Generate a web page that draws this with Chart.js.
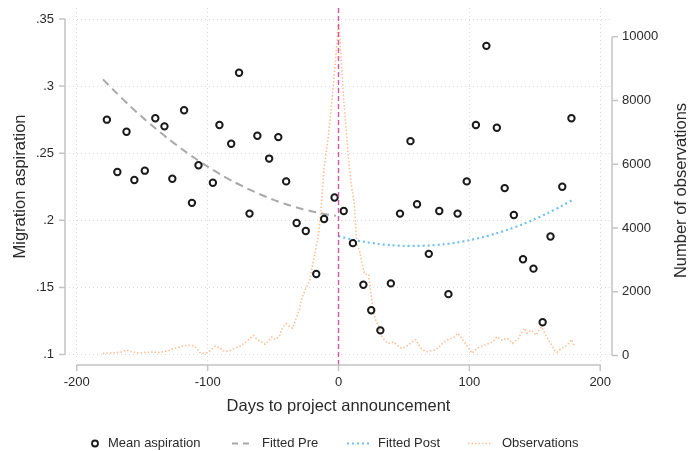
<!DOCTYPE html>
<html>
<head>
<meta charset="utf-8">
<script src="https://cdn.jsdelivr.net/npm/chart.js@4.4.1/dist/chart.umd.min.js"></script>
<style>
html,body{margin:0;padding:0;background:#ffffff;}
#wrap{width:691px;height:451px;position:relative;}
</style>
</head>
<body>
<div id="wrap"><canvas id="c" width="691" height="451"></canvas></div>
<script>
// ---- data ----
const aspDays = [-177,-169,-162,-156,-148,-140,-133,-127,-118,-112,-107,-96,-91,-82,-76,-68,-62,-53,-46,-40,-32,-25,-17,-11,-3,4,11,19,25,32,40,47,55,60,69,77,84,91,98,105,113,121,127,134,141,149,156,162,171,178];
const aspValues = [.275,.236,.266,.230,.237,.276,.270,.231,.282,.213,.241,.228,.271,.257,.310,.205,.263,.246,.262,.229,.198,.192,.160,.201,.217,.207,.183,.152,.133,.118,.153,.205,.259,.212,.175,.207,.145,.205,.229,.271,.330,.269,.224,.204,.171,.164,.124,.188,.225,.276];

const preDays = [-180,-170,-160,-150,-140,-130,-120,-110,-100,-90,-80,-70,-60,-50,-40,-30,-20,-10,-2];
const preFit  = [.305,.2952,.2858,.2769,.2686,.2607,.2533,.2464,.2400,.2341,.2287,.2238,.2194,.2154,.2120,.2090,.2066,.2046,.2034];

const postDays = [0,10,20,30,40,50,60,70,80,90,100,110,120,130,140,150,160,170,180];
const postFit  = [.1882,.1858,.1839,.1825,.1815,.1810,.1809,.1813,.1821,.1834,.1852,.1874,.1901,.1932,.1968,.2009,.2054,.2104,.2158];

const obsDays = [-180,-175,-170,-166,-162,-158,-154,-150,-146,-142,-138,-134,-130,-126,-122,-118,-114,-110,-106,-102,-98,-94,-90,-87,-83,-79,-75,-71,-68,-65,-62,-59,-56,-53,-51,-48,-45,-43,-40,-37,-35,-33,-30,-28,-25,-22,-20,-18,-15,-13,-11,-8,-5,-3,-1,0,1,2,4,6,8,10,12,14,16,18,20,23,25,27,29,31,33,36,38,40,42,45,48,51,55,59,63,66,68,71,74,77,80,84,88,91,93,95,97,100,102,104,106,109,112,115,118,121,123,125,127,129,131,133,135,137,139,142,144,147,149,151,153,155,157,159,161,163,165,167,169,171,173,175,178,180];
const obsCounts = [60,80,90,110,170,120,80,90,100,110,90,120,150,220,250,310,320,300,90,60,150,300,220,120,150,230,300,420,520,630,500,430,350,480,580,500,620,850,1000,900,850,1100,1420,1800,2100,2350,2800,3200,3850,4800,5900,6800,8000,8900,9900,10450,10000,9300,8000,7000,6000,5300,4800,3500,3300,2900,2550,2550,1850,1300,1050,900,600,450,380,400,430,320,230,260,380,500,230,140,120,150,170,280,400,500,560,700,600,480,380,200,70,150,230,280,330,380,430,590,520,480,520,540,460,380,450,500,650,850,700,800,720,640,780,900,750,600,450,330,170,100,180,230,280,330,500,330];

const announceDay = 0;
const xTicks = [-200,-100,0,100,200];
const yTicks = [.1,.15,.2,.25,.3,.35];
const yTickLabels = ['.1','.15','.2','.25','.3','.35'];
const y2Ticks = [0,2000,4000,6000,8000,10000];
const seriesNames = ['Mean aspiration','Fitted Pre','Fitted Post','Observations'];
const xTitle = 'Days to project announcement';
const yTitle = 'Migration aspiration';
const y2Title = 'Number of observations';

// ---- styles ----
const FONT = "'Liberation Sans', Arial, Helvetica, sans-serif";
const colAsp = '#1a1a1a', colPre = '#a9a9a9', colPost = '#72c0ee', colObs = '#fdc096', colLine = '#d9559f';
const axisCol = '#c4c4c4', gridCol = '#dcdcdc', textCol = '#2a2a2a';

Chart.defaults.font.family = FONT;
Chart.defaults.font.size = 13;
Chart.defaults.color = textCol;

const pairs = (xs, ys) => xs.map((v, i) => ({x: v, y: ys[i]}));
const noPadV = s => { s.paddingTop = 0; s.paddingBottom = 0; };

const decor = {
  id: 'decor',
  afterDatasetsDraw(chart) {
    const {ctx, chartArea: a, scales: {x}} = chart;
    const px = x.getPixelForValue(announceDay);
    ctx.save();
    ctx.strokeStyle = colLine; ctx.lineWidth = 1.4; ctx.setLineDash([5, 3]);
    ctx.beginPath(); ctx.moveTo(px, a.top); ctx.lineTo(px, a.bottom); ctx.stroke();
    ctx.restore();
  },
  afterDraw(chart) {
    const {ctx, chartArea: a, scales: {x, y, y2}} = chart;
    ctx.save();
    ctx.strokeStyle = axisCol; ctx.lineWidth = 1.5; ctx.setLineDash([]);
    ctx.beginPath();
    ctx.moveTo(a.left, y.getPixelForValue(yTicks[0]));
    ctx.lineTo(a.left, y.getPixelForValue(yTicks[yTicks.length - 1]));
    yTicks.forEach(v => { const p = y.getPixelForValue(v); ctx.moveTo(a.left, p); ctx.lineTo(a.left - 6, p); });
    ctx.moveTo(a.right, y2.getPixelForValue(y2Ticks[0]));
    ctx.lineTo(a.right, y2.getPixelForValue(y2Ticks[y2Ticks.length - 1]));
    y2Ticks.forEach(v => { const p = y2.getPixelForValue(v); ctx.moveTo(a.right, p); ctx.lineTo(a.right + 6, p); });
    ctx.moveTo(x.getPixelForValue(xTicks[0]), a.bottom);
    ctx.lineTo(x.getPixelForValue(xTicks[xTicks.length - 1]), a.bottom);
    xTicks.forEach(v => { const p = x.getPixelForValue(v); ctx.moveTo(p, a.bottom); ctx.lineTo(p, a.bottom + 6); });
    ctx.stroke();

    ctx.fillStyle = textCol;
    ctx.font = '16.5px ' + FONT;
    ctx.textAlign = 'center'; ctx.textBaseline = 'middle';
    const xc = (a.left + a.right) / 2;
    ctx.fillText(xTitle, xc, 406);
    const yc = (a.top + a.bottom) / 2;
    ctx.save(); ctx.translate(20, yc); ctx.rotate(-Math.PI / 2); ctx.fillText(yTitle, 0, 0); ctx.restore();
    ctx.save(); ctx.translate(681, yc + 4); ctx.rotate(-Math.PI / 2); ctx.fillText(y2Title, 0, 0); ctx.restore();

    const ly = 443.5;
    ctx.font = '13px ' + FONT;
    ctx.textAlign = 'left';
    ctx.strokeStyle = colAsp; ctx.lineWidth = 1.8;
    ctx.beginPath(); ctx.arc(95, ly, 3, 0, Math.PI * 2); ctx.stroke();
    ctx.fillText(seriesNames[0], 108, ly);
    ctx.strokeStyle = colPre; ctx.lineWidth = 2; ctx.setLineDash([6, 5]);
    ctx.beginPath(); ctx.moveTo(232, ly); ctx.lineTo(252, ly); ctx.stroke();
    ctx.fillText(seriesNames[1], 262, ly);
    ctx.strokeStyle = colPost; ctx.lineWidth = 2.2; ctx.setLineDash([2, 3]);
    ctx.beginPath(); ctx.moveTo(347, ly); ctx.lineTo(371, ly); ctx.stroke();
    ctx.fillText(seriesNames[2], 378, ly);
    ctx.strokeStyle = colObs; ctx.lineWidth = 1.6; ctx.setLineDash([1.5, 2]);
    ctx.beginPath(); ctx.moveTo(468, ly); ctx.lineTo(493, ly); ctx.stroke();
    ctx.fillText(seriesNames[3], 502, ly);
    ctx.restore();
  }
};

new Chart(document.getElementById('c'), {
  type: 'scatter',
  data: {
    datasets: [
      { label: seriesNames[0], data: pairs(aspDays, aspValues), yAxisID: 'y',
        pointRadius: 3.2, pointHoverRadius: 3.2, borderColor: colAsp, backgroundColor: 'rgba(255,255,255,0)', borderWidth: 2, showLine: false },
      { label: seriesNames[1], data: pairs(preDays, preFit), yAxisID: 'y', showLine: true,
        pointRadius: 0, borderColor: colPre, borderWidth: 2, borderDash: [8, 5], tension: 0.3 },
      { label: seriesNames[2], data: pairs(postDays, postFit), yAxisID: 'y', showLine: true,
        pointRadius: 0, borderColor: colPost, borderWidth: 2.2, borderDash: [2, 3], tension: 0.3 },
      { label: seriesNames[3], data: pairs(obsDays, obsCounts), yAxisID: 'y2', showLine: true,
        pointRadius: 0, borderColor: colObs, borderWidth: 1.6, borderDash: [1.5, 2], tension: 0 }
    ]
  },
  options: {
    responsive: false,
    devicePixelRatio: 1,
    animation: false,
    layout: { padding: { top: 8, left: 0, right: 0, bottom: 0 } },
    plugins: { legend: { display: false }, tooltip: { enabled: false } },
    scales: {
      x: {
        type: 'linear', min: -209, max: 209,
        afterBuildTicks: s => { s.ticks = xTicks.map(v => ({ value: v })); },
        afterFit: s => { s.height = 86; s.paddingLeft = 0; s.paddingRight = 0; },
        ticks: { padding: 10, callback: v => String(v), font: { size: 13 }, color: textCol, maxRotation: 0 },
        grid: { color: gridCol, lineWidth: 1, drawTicks: false },
        border: { display: false, dash: [1, 3] }
      },
      y: {
        type: 'linear', position: 'left', min: 0.0922, max: 0.3582,
        afterBuildTicks: s => { s.ticks = yTicks.map(v => ({ value: v })); },
        afterFit: s => { s.width = 65; noPadV(s); },
        ticks: { padding: 11, font: { size: 13 }, color: textCol,
          callback: v => { const i = yTicks.findIndex(t => Math.abs(t - v) < 1e-9); return i >= 0 ? yTickLabels[i] : ''; } },
        grid: { color: gridCol, lineWidth: 1, drawTicks: false },
        border: { display: false, dash: [1, 3] }
      },
      y2: {
        type: 'linear', position: 'right', min: -298, max: 10900,
        afterBuildTicks: s => { s.ticks = y2Ticks.map(v => ({ value: v })); },
        afterFit: s => { s.width = 79; noPadV(s); },
        ticks: { padding: 10, font: { size: 13 }, color: textCol, callback: v => String(v) },
        grid: { display: false, drawTicks: false },
        border: { display: false }
      }
    }
  },
  plugins: [decor]
});
</script>
</body>
</html>
